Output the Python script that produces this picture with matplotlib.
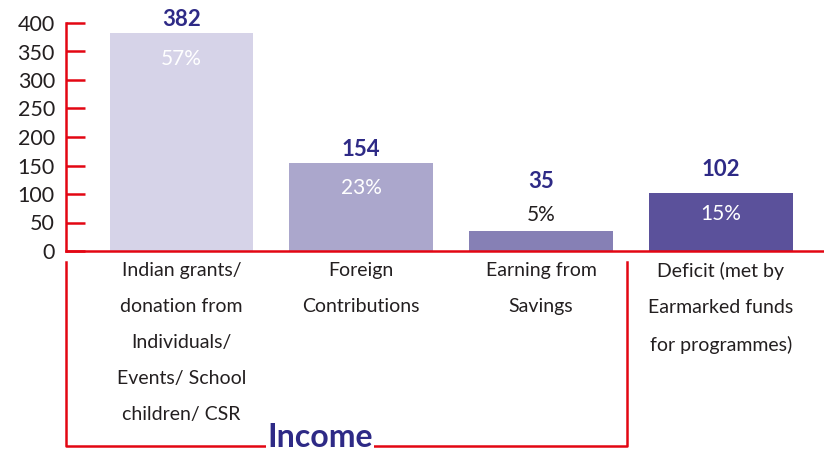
import numpy as np
import matplotlib
matplotlib.use("Agg")
import matplotlib.pyplot as plt
import matplotlib.transforms as mtransforms

#--- Data ---
categories = ["Indian grants/\ndonation from\nIndividuals/\nEvents/ School\nchildren/ CSR",
              "Foreign\nContributions",
              "Earning from\nSavings",
              "Deficit (met by\nEarmarked funds\nfor programmes)"]
values = [382, 154, 35, 102]
percents = ["57%", "23%", "5%", "15%"]
yticks = [0, 50, 100, 150, 200, 250, 300, 350, 400]
group_label = "Income"

#--- Styles ---
bar_colors = ["#d6d3e8", "#aba7cc", "#8680b5", "#5b519b"]
pct_colors = ["white", "white", "#231f20", "white"]
val_offsets = [2, 2, 28, 9]          # points above bar top
pct_offsets = [-18.5, -17.5, 11.5, -15.5]  # points from bar top
red = "#e30613"
navy = "#2e2a86"
plt.rcParams['font.family'] = ['Lato', 'DejaVu Sans']

fig = plt.figure(figsize=(8.24, 4.51), dpi=100)
ax = fig.add_axes([66/824, 200/451, 758/824, 228/451])

x = np.arange(len(values))
ax.bar(x, values, width=0.8, color=bar_colors, zorder=2)

ax.set_xlim(-0.643, 3.575)
ax.set_ylim(0, 400)
ax.set_yticks(yticks)
ax.set_yticklabels([str(t) for t in yticks], fontsize=15.5, color="#231f20")
ax.tick_params(axis="y", direction="in", length=14, width=1.8, color=red, pad=8)
ax.set_xticks(x)
ax.set_xticklabels(categories, fontsize=14, color="#231f20", linespacing=2.35, va="top")
ax.tick_params(axis="x", length=0, pad=8)

for s in ["top", "right"]:
    ax.spines[s].set_visible(False)
ax.spines["left"].set_color(red)
ax.spines["bottom"].set_color(red)
ax.spines["left"].set_linewidth(1.8)
ax.spines["bottom"].set_linewidth(1.8)

# value and percent labels
for i in range(len(values)):
    ax.annotate(str(values[i]), (x[i], values[i]), xytext=(0, val_offsets[i]),
                textcoords="offset points", ha="center", va="bottom",
                fontsize=16, fontweight="bold", color=navy, annotation_clip=False)
    ax.annotate(percents[i], (x[i], values[i]), xytext=(0, pct_offsets[i]),
                textcoords="offset points", ha="center", va="center",
                fontsize=15, color=pct_colors[i], annotation_clip=False)

# bracket for Income group
trans = mtransforms.blended_transform_factory(ax.transData, ax.transAxes)
xl, xr = -0.643, 2.48
ytop, ybot = -0.048, -0.855
ax.plot([xl, xl, xr, xr], [ytop, ybot, ybot, ytop], color=red, lw=1.8,
        transform=trans, clip_on=False)
ax.text(0.77, ybot + 0.035, group_label, transform=trans, ha="center", va="center",
        fontsize=23, fontweight="bold", color=navy,
        bbox=dict(facecolor="white", edgecolor="none", pad=1))

fig.savefig("out.png", dpi=100)
